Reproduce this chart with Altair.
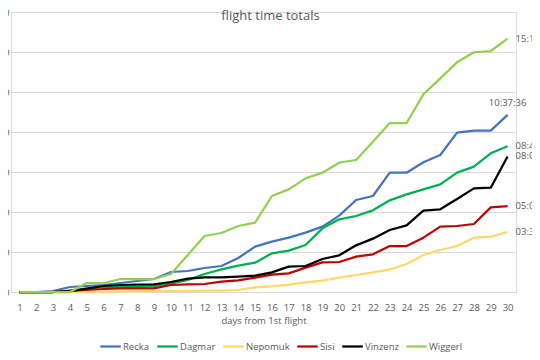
import altair as alt
import pandas as pd

days = list(range(1, 31))
names = ["Recka", "Dagmar", "Nepomuk", "Sisi", "Vinzenz", "Wiggerl"]
colors = ["#4472C4", "#00B050", "#FFD966", "#C00000", "#000000", "#92D050"]

# cumulative flight time in hours
recka = [0, 0, 0.06, 0.3, 0.36, 0.42, 0.54, 0.66, 0.78, 1.2, 1.26, 1.44, 1.56, 2.04, 2.72,
         3.02, 3.26, 3.56, 3.92, 4.58, 5.52, 5.76, 7.16, 7.16, 7.78, 8.22, 9.56, 9.68, 9.68, 10.62667]
dagmar = [0, 0, 0, 0.05, 0.2, 0.3, 0.3, 0.3, 0.35, 0.5, 0.72, 1.08, 1.36, 1.58, 1.76,
          2.32, 2.48, 2.82, 3.82, 4.36, 4.56, 4.9, 5.5, 5.86, 6.16, 6.46, 7.16, 7.52, 8.32, 8.75]
nepomuk = [0, 0, 0, 0, 0, 0.02, 0.04, 0.05, 0.05, 0.06, 0.06, 0.08, 0.08, 0.12, 0.28,
           0.34, 0.44, 0.58, 0.68, 0.86, 1.02, 1.18, 1.34, 1.68, 2.22, 2.52, 2.76, 3.26, 3.32, 3.6]
sisi = [0, 0, 0, 0.08, 0.12, 0.18, 0.22, 0.22, 0.22, 0.42, 0.46, 0.48, 0.62, 0.7, 0.86,
        1.04, 1.12, 1.46, 1.78, 1.8, 2.12, 2.26, 2.76, 2.76, 3.26, 3.92, 3.96, 4.08, 5.08, 5.15]
vinzenz = [0, 0, 0, 0.05, 0.2, 0.36, 0.42, 0.44, 0.46, 0.6, 0.8, 0.88, 0.88, 0.92, 0.98,
           1.18, 1.52, 1.56, 1.98, 2.2, 2.8, 3.2, 3.72, 4.0, 4.88, 4.96, 5.58, 6.22, 6.26, 8.13333]
wiggerl = [0, 0, 0, 0, 0.54, 0.54, 0.78, 0.78, 0.78, 1.08, 2.22, 3.36, 3.54, 3.96, 4.16,
           5.76, 6.16, 6.82, 7.16, 7.76, 7.92, 9.02, 10.14, 10.14, 11.86, 12.82, 13.78, 14.38, 14.46, 15.2]

y_ticks = [0, 2.4, 4.8, 7.2, 9.6, 12.0, 14.4, 16.8]

series = [recka, dagmar, nepomuk, sisi, vinzenz, wiggerl]
rows = []
for n, vals in zip(names, series):
    for d, v in zip(days, vals):
        rows.append({"name": n, "day": d, "hours": v})
df = pd.DataFrame(rows)

FONT = "Open Sans"
GREY = "#595959"

base = alt.Chart(df)

x_enc = alt.X("day:O", title="days from 1st flight",
              axis=alt.Axis(labelAngle=0, ticks=False, domain=False, grid=False,
                            labelFont=FONT, labelFontSize=9.5, labelColor=GREY,
                            labelPadding=10, titleFont=FONT, titleFontSize=9.5,
                            titleColor=GREY, titleFontWeight="normal", titlePadding=4))
y_enc = alt.Y("hours:Q", title=None,
              scale=alt.Scale(domain=[0, 16.8], nice=False, zero=True),
              axis=alt.Axis(values=y_ticks, tickCount=10, domain=False, ticks=False, grid=True,
                            gridColor="#D9D9D9", gridWidth=1, labelOverlap=False,
                            labelExpr="timeFormat(datetime(2000,0,1,0,0,round(datum.value*3600)),'%H:%M:%S')",
                            labelFont=FONT, labelFontSize=9.5, labelColor=GREY))

lines = base.mark_line(strokeWidth=2.25, strokeJoin="round").encode(
    x=x_enc, y=y_enc,
    color=alt.Color("name:N", sort=names,
                    scale=alt.Scale(domain=names, range=colors),
                    legend=alt.Legend(title=None, orient="none", direction="horizontal",
                                      legendX=88, legendY=323,
                                      symbolType="stroke", symbolSize=420,
                                      symbolStrokeWidth=2.25, labelFont=FONT,
                                      labelFontSize=9.5, labelColor=GREY,
                                      labelOffset=1, columnPadding=2)),
)

last = base.transform_filter("datum.day == 30").transform_calculate(
    label="timeFormat(datetime(2000,0,1,0,0,round(datum.hours*3600)),'%H:%M:%S')")

lab_right = last.transform_filter("datum.name != 'Recka'").mark_text(
    align="left", baseline="middle", dx=8, font=FONT, fontSize=9.5, color=GREY
).encode(x="day:O", y="hours:Q", text="label:N")

lab_top = last.transform_filter("datum.name == 'Recka'").mark_text(
    align="center", baseline="middle", dy=-12, font=FONT, fontSize=9.5, color=GREY
).encode(x="day:O", y="hours:Q", text="label:N")

chart = alt.layer(lines, lab_right, lab_top).properties(
    width=505, height=280,
    title=alt.TitleParams("flight time totals", anchor="middle", offset=-16, dx=7,
                          font=FONT, fontSize=13, color=GREY, fontWeight="normal"),
    autosize=alt.AutoSizeParams(type="none"),
    padding={"left": 3, "top": 4, "right": 16, "bottom": 60},
).configure_view(stroke=None).configure(background="white")

chart.save("out.html", embed_options={"renderer": "svg", "actions": False})
